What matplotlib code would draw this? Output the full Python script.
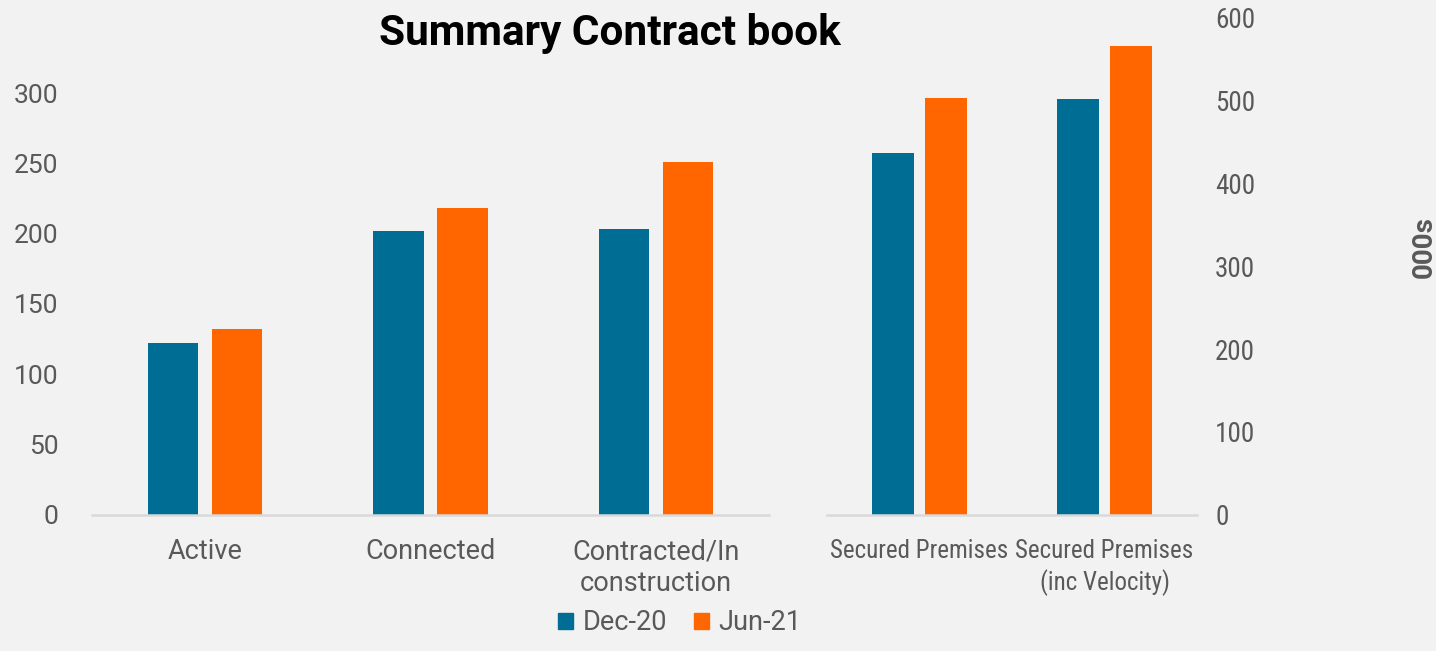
import matplotlib.pyplot as plt
import numpy as np
from matplotlib.patches import Patch
from matplotlib import font_manager

plt.rcParams["font.family"] = ["Roboto", "DejaVu Sans"]

# Left panel: counts
left_cats = ["Active", "Connected", "Contracted/In\nconstruction"]
left_dec20 = [122, 202, 203]
left_jun21 = [132, 218, 251]

# Right panel: premises, in thousands
right_cats = ["Secured Premises", "Secured Premises\n(inc Velocity)"]
right_dec20 = [437, 502]
right_jun21 = [503, 566]

series_labels = ["Dec-20", "Jun-21"]
left_ticks = [0, 50, 100, 150, 200, 250, 300]
right_ticks = [0, 100, 200, 300, 400, 500, 600]

BLUE = "#006E94"
ORANGE = "#FF6600"
BG = "#F2F2F2"
GREY_TXT = "#595959"
AXIS_LINE = "#D9D9D9"

# right-hand panel text is set narrower; use a condensed face if there is one
installed = {f.name for f in font_manager.fontManager.ttflist}
if "Roboto Condensed" in installed:
    NARROW, R_LABEL_FS, R_TICK_FS = ["Roboto Condensed"], 18, 19.5
else:
    NARROW, R_LABEL_FS, R_TICK_FS = ["Roboto"], 15.5, 15.5

W, H = 1436, 651
fig = plt.figure(figsize=(W / 100, H / 100), dpi=100, facecolor=BG)


def px_box(x0, x1, ytop, ybot):
    return [x0 / W, (H - ybot) / H, (x1 - x0) / W, (ybot - ytop) / H]


ax_l = fig.add_axes(px_box(92, 769, 18, 514.5))
ax_r = fig.add_axes(px_box(827, 1197, 18, 514.5))


def draw_bars(ax, cats, a, b, bw, gap, fs, family):
    x = np.arange(len(cats))
    off = (bw + gap) / 2
    ax.bar(x - off, a, width=bw, color=BLUE)
    ax.bar(x + off, b, width=bw, color=ORANGE)
    ax.set_xlim(-0.5, len(cats) - 0.5)
    ax.set_xticks(x)
    ax.set_xticklabels(cats, fontsize=fs, color=GREY_TXT, linespacing=1.25, family=family)
    ax.set_facecolor(BG)
    for s in ["top", "left", "right"]:
        ax.spines[s].set_visible(False)
    ax.spines["bottom"].set_color(AXIS_LINE)
    ax.spines["bottom"].set_linewidth(1.8)
    ax.tick_params(axis="both", length=0, labelcolor=GREY_TXT)


draw_bars(ax_l, left_cats, left_dec20, left_jun21, 0.222, 0.062, 19.5, ["Roboto"])
draw_bars(ax_r, right_cats, right_dec20, right_jun21, 0.227, 0.06, R_LABEL_FS, NARROW)

ax_l.set_ylim(0, 353.6)
ax_l.set_yticks(left_ticks)
ax_l.tick_params(axis="y", pad=24, labelsize=19)
ax_l.tick_params(axis="x", pad=17)

ax_r.set_ylim(0, 600)
ax_r.set_yticks(right_ticks)
ax_r.set_yticklabels([str(v) for v in right_ticks], family=NARROW, fontsize=R_TICK_FS)
ax_r.yaxis.tick_right()
ax_r.tick_params(axis="y", pad=13)
ax_r.tick_params(axis="x", pad=18)

fig.text(1424 / W, 1 - 247 / H, "000s", rotation=90, ha="center", va="center",
         fontsize=20, fontweight="bold", color=GREY_TXT)

fig.text(610 / W, 1 - 33 / H, "Summary Contract book", ha="center", va="center",
         fontsize=30.5, fontweight="bold", color="black")

handles = [Patch(color=BLUE), Patch(color=ORANGE)]
fig.legend(handles, series_labels, loc="center", bbox_to_anchor=(680 / W, 1 - 623 / H),
           ncol=2, frameon=False, fontsize=19.5, labelcolor=GREY_TXT,
           handlelength=0.55, handleheight=0.55, handletextpad=0.35, columnspacing=1.0)

fig.savefig("out.png", dpi=100, facecolor=BG)
